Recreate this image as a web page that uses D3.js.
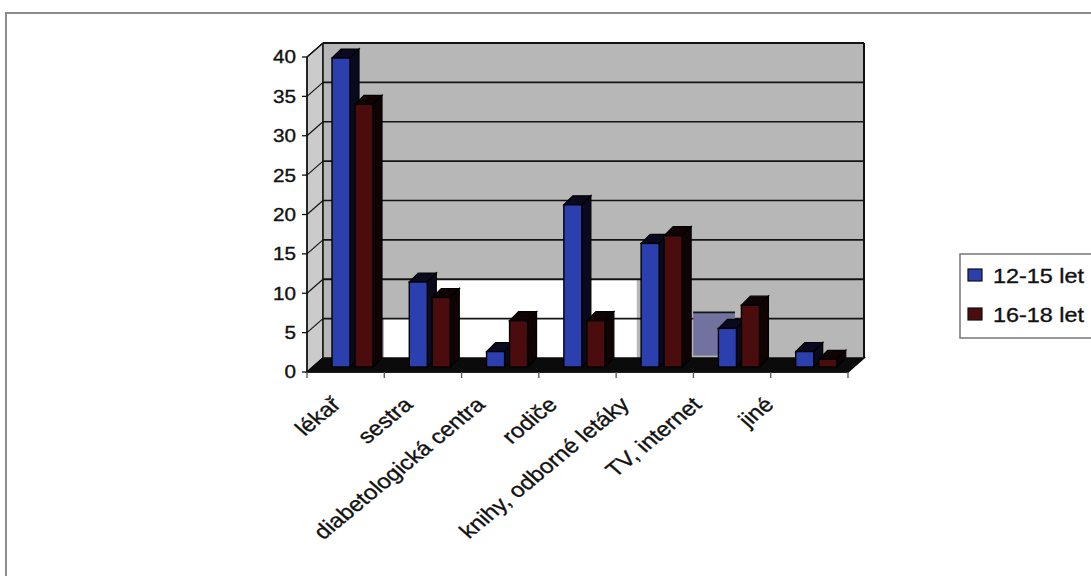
<!DOCTYPE html>
<html>
<head>
<meta charset="utf-8">
<script src="https://cdn.jsdelivr.net/npm/d3@7"></script>
<style>
  html, body { margin: 0; padding: 0; background: #fff; }
  svg { display: block; }
</style>
</head>
<body>
<svg id="chart" width="1091" height="576"></svg>
<script>
// ---- data ----
const categories = ["lékař", "sestra", "diabetologická centra", "rodiče", "knihy, odborné letáky", "TV, internet", "jiné"];
const seriesNames = ["12-15 let", "16-18 let"];
const values1215 = [40, 11, 2, 21, 16, 5, 2];
const values1618 = [34, 9, 6, 6, 17, 8, 1];
const yTicks = [0, 5, 10, 15, 20, 25, 30, 35, 40];

// ---- styling ----
const FONT = "'Liberation Sans', Arial, Helvetica, sans-serif";
const TICK_SIZE = 17.7;
const LABEL_SIZE = 20.5;
const LEGEND_SIZE = 20;
const STRETCH = 1.17;               // horizontal stretch of all lettering
const INK = "#111";
const faceColors = ["#2b3fae", "#4a0c0c"];
const shadeColors = ["#0a0a1e", "#100303"];
const WALL = "#b7b7b7", SIDE = "#cbcbcb";

const svg = d3.select("#chart");
const series = seriesNames.map((name, k) => ({
  name, k, values: k === 0 ? values1215 : values1618
}));

function stretchedText(parent, x, y, str, size, anchor, angle) {
  const g = parent.append("g")
    .attr("transform", `translate(${x},${y}) scale(${STRETCH},1)` + (angle ? ` rotate(${angle})` : ""));
  return g.append("text")
    .attr("text-anchor", anchor)
    .attr("font-family", FONT).attr("font-size", size)
    .attr("fill", INK).attr("stroke", INK).attr("stroke-width", 0.35)
    .text(str);
}

// outer frame
svg.append("rect")
  .attr("x", 6).attr("y", 13).attr("width", 1110).attr("height", 580)
  .attr("fill", "#fff").attr("stroke", "#8c8c8c").attr("stroke-width", 2);

// ---- scales ----
const n = categories.length;
const xPos = d3.scaleLinear().domain([0, n]).range([307, 848]);          // front floor edge
const xBand = d3.scaleBand().domain(categories).range(xPos.range());
const yFront = d3.scaleLinear().domain([0, 40]).range([372, 57]);       // front axis plane
const wallShift = { dx: 16, dy: -14 };                                  // depth of the plot box
const yWall = v => yFront(v) + wallShift.dy;
const xWall = i => xPos(i) + wallShift.dx;

const barShift = 10;                                                     // bars stand mid-depth
const yBar = d3.scaleLinear().domain([0, 40]).range([367, 58]);
const xSub = d3.scaleBand().domain(seriesNames).range([15, 56]).paddingInner(0.217);
const barDepth = { dx: 9, dy: -9 };

const line = d3.line();

// ---- side wall ----
svg.append("path")
  .attr("d", line([[xPos(0), yFront(0)], [xPos(0), yFront(40)], [xWall(0), yWall(40)], [xWall(0), yWall(0)]]) + "Z")
  .attr("fill", SIDE).attr("stroke", INK).attr("stroke-width", 1.2);

// ---- back wall ----
svg.append("rect")
  .attr("x", xWall(0)).attr("y", yWall(40))
  .attr("width", xWall(n) - xWall(0)).attr("height", yWall(0) - yWall(40))
  .attr("fill", WALL);

// unpainted areas of the wall behind the middle bars
const wallGaps = [
  { i0: 0.79, i1: 4.06, v0: 0, v1: 5 },
  { i0: 1.45, i1: 4.06, v0: 5, v1: 10 }
];
svg.selectAll("rect.gap").data(wallGaps).join("rect").attr("class", "gap")
  .attr("x", d => xWall(d.i0)).attr("y", d => yWall(d.v1))
  .attr("width", d => xWall(d.i1) - xWall(d.i0)).attr("height", d => yWall(d.v0) - yWall(d.v1))
  .attr("fill", "#fff");

// gridlines on back wall and side wall
const grid = svg.append("g");
yTicks.filter(v => v > 0).forEach(v => {
  grid.append("line")
    .attr("x1", xWall(0)).attr("x2", xWall(n)).attr("y1", yWall(v)).attr("y2", yWall(v))
    .attr("stroke", "#141414").attr("stroke-width", v === 40 ? 2 : (v === 10 ? 2.2 : 1.6));
  grid.append("line")
    .attr("x1", xPos(0)).attr("x2", xWall(0)).attr("y1", yFront(v)).attr("y2", yWall(v))
    .attr("stroke", "#141414").attr("stroke-width", 1.2);
});

// tinted patch behind the TV bars
svg.append("rect")
  .attr("x", xWall(4.79)).attr("y", yWall(5.8))
  .attr("width", xWall(5.33) - xWall(4.79)).attr("height", yWall(0.3) - yWall(5.8))
  .attr("fill", "#72729e");
svg.append("line")
  .attr("x1", xWall(4.79)).attr("x2", xWall(5.33)).attr("y1", yWall(5.8)).attr("y2", yWall(5.8))
  .attr("stroke", "#141414").attr("stroke-width", 1.8);

// wall outline
svg.append("line").attr("x1", xWall(0)).attr("x2", xWall(0)).attr("y1", yWall(40)).attr("y2", yWall(0))
  .attr("stroke", INK).attr("stroke-width", 1.5);
svg.append("line").attr("x1", xWall(n)).attr("x2", xWall(n)).attr("y1", yWall(40)).attr("y2", yWall(0))
  .attr("stroke", INK).attr("stroke-width", 2);

// ---- floor ----
svg.append("path")
  .attr("d", line([[xPos(0), yFront(0)], [xPos(n), yFront(0)], [xWall(n), yWall(0)], [xWall(0), yWall(0)]]) + "Z")
  .attr("fill", "#0b0b0b").attr("stroke", "#0b0b0b").attr("stroke-width", 1.5);

// ---- bars ----
const bars = svg.append("g");
categories.forEach((c, i) => {
  series.forEach(s => {
    const v = s.values[i];
    const x0 = xBand(c) + barShift + xSub(s.name);
    const w = xSub.bandwidth();
    const yt = yBar(v), yb = yBar(0);
    const g = bars.append("g");
    // top face
    g.append("path")
      .attr("d", line([[x0, yt], [x0 + barDepth.dx, yt + barDepth.dy], [x0 + w + barDepth.dx, yt + barDepth.dy], [x0 + w, yt]]) + "Z")
      .attr("fill", shadeColors[s.k]).attr("stroke", "#000").attr("stroke-width", 1.2);
    // side face
    g.append("path")
      .attr("d", line([[x0 + w, yt], [x0 + w + barDepth.dx, yt + barDepth.dy], [x0 + w + barDepth.dx, yb + barDepth.dy], [x0 + w, yb]]) + "Z")
      .attr("fill", shadeColors[s.k]).attr("stroke", "#000").attr("stroke-width", 1.2);
    // front face
    g.append("rect")
      .attr("x", x0).attr("y", yt).attr("width", w).attr("height", yb - yt)
      .attr("fill", faceColors[s.k]).attr("stroke", "#000").attr("stroke-width", 1.4);
  });
});

// ---- axes ----
const axisG = svg.append("g");
axisG.append("line").attr("x1", xPos(0)).attr("x2", xPos(0)).attr("y1", yFront(0)).attr("y2", yFront(40))
  .attr("stroke", INK).attr("stroke-width", 1.5);
axisG.append("line").attr("x1", xPos(0)).attr("x2", xPos(n)).attr("y1", yFront(0)).attr("y2", yFront(0))
  .attr("stroke", INK).attr("stroke-width", 1.5);

yTicks.forEach(v => {
  axisG.append("line").attr("x1", xPos(0) - 5).attr("x2", xPos(0)).attr("y1", yFront(v)).attr("y2", yFront(v))
    .attr("stroke", INK).attr("stroke-width", 1.3);
  stretchedText(axisG, xPos(0) - 11, yFront(v) + 6.4, v, TICK_SIZE, "end", 0);
});

d3.range(n + 1).forEach(i => {
  axisG.append("line").attr("x1", xPos(i)).attr("x2", xPos(i)).attr("y1", yFront(0)).attr("y2", yFront(0) + 6)
    .attr("stroke", "#555").attr("stroke-width", 1.3);
});

// rotated category labels
const labelPos = d3.scalePoint().domain(categories).range([342, 775]);
categories.forEach(c => {
  stretchedText(axisG, labelPos(c), 406, c, LABEL_SIZE, "end", -44);
});

// ---- legend ----
const legend = svg.append("g");
legend.append("rect")
  .attr("x", 960).attr("y", 254).attr("width", 150).attr("height", 84)
  .attr("fill", "#fff").attr("stroke", "#777").attr("stroke-width", 1.5);
series.forEach(s => {
  const ly = 269 + s.k * 39;
  legend.append("rect")
    .attr("x", 968).attr("y", ly).attr("width", 14).attr("height", 12)
    .attr("fill", faceColors[s.k]).attr("stroke", INK).attr("stroke-width", 1.2);
  stretchedText(legend, 993, ly + 14, s.name, LEGEND_SIZE, "start", 0);
});
</script>
</body>
</html>
